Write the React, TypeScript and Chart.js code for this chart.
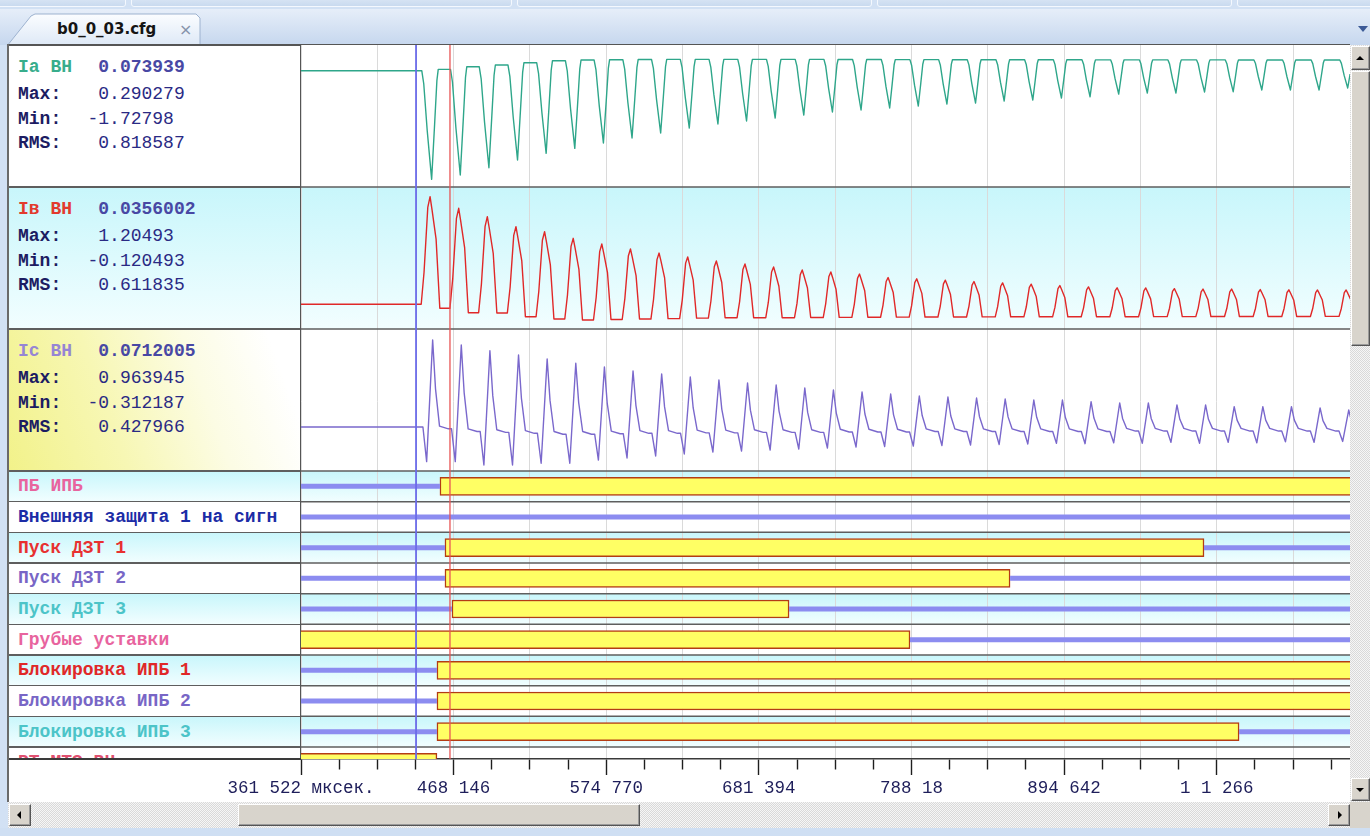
import React, { useEffect, useRef } from 'react';
import { Chart, registerables } from 'chart.js';

Chart.register(...registerables);

// ---------------- time axis (ms) ----------------
const viewStart = 361.522;
const viewEnd = 1094.4;
const recordStart = 300;
const recordEnd = 1150;
const majorTickValues = [361.522, 468.146, 574.77, 681.394, 788.018, 894.642, 1001.266];
const majorTickLabels = ['361 522 мксек.', '468 146', '574 770', '681 394', '788 18', '894 642', '1 1 266'];
const minorTicksPerMajor = 4;
const cursorBlueTime = 441.9;
const cursorRedTime = 465.6;

// ---------------- analog channels ----------------
const analogNames = ['Ia ВН', 'Iв ВН', 'Ic ВН'];
const analogCurrent = ['0.073939', '0.0356002', '0.0712005'];
const analogMax = ['0.290279', '1.20493', '0.963945'];
const analogMin = ['-1.72798', '-0.120493', '-0.312187'];
const analogRms = ['0.818587', '0.611835', '0.427966'];
const analogAxisMin = [-1.85, -0.2766, -0.4875];
const analogAxisMax = [0.409, 1.3136, 1.086];

// per-cycle readings (50 Hz, one entry per cycle)
const iaTroughTime = [452.8, 472.8, 492.8, 512.8, 532.8, 552.8, 572.8, 592.8, 612.8, 632.8, 652.8, 672.8, 692.8, 712.8, 732.8, 752.8, 772.8, 792.8, 812.8, 832.8, 852.8, 872.8, 892.8, 912.8, 932.8, 952.8, 972.8, 992.8, 1012.8, 1032.8, 1052.8, 1072.8, 1092.8];
const iaTrough = [-1.728, -1.66, -1.543, -1.421, -1.314, -1.235, -1.15, -1.071, -0.991, -0.912, -0.848, -0.8, -0.753, -0.705, -0.657, -0.625, -0.593, -0.562, -0.53, -0.514, -0.482, -0.466, -0.434, -0.414, -0.371, -0.355, -0.355, -0.339, -0.334, -0.307, -0.307, -0.307, -0.275];
const iaTop = [0.022, 0.064, 0.091, 0.127, 0.159, 0.17, 0.175, 0.178, 0.18, 0.18, 0.18, 0.18, 0.18, 0.18, 0.178, 0.178, 0.176, 0.176, 0.175, 0.175, 0.175, 0.174, 0.174, 0.173, 0.173, 0.172, 0.172, 0.172, 0.171, 0.171, 0.17, 0.17, 0.17];
const pulseWidth = [1.0, 0.99, 0.98, 0.97, 0.96, 0.95, 0.94, 0.93, 0.92, 0.91, 0.9, 0.89, 0.88, 0.87, 0.86, 0.86, 0.85, 0.85, 0.84, 0.84, 0.83, 0.83, 0.82, 0.82, 0.82, 0.81, 0.81, 0.81, 0.8, 0.8, 0.8, 0.8, 0.8];

const ibPeakTime = [451.7, 471.7, 491.7, 511.7, 531.7, 551.7, 571.7, 591.7, 611.7, 631.7, 651.7, 671.7, 691.7, 711.7, 731.7, 751.7, 771.7, 791.7, 811.7, 831.7, 851.7, 871.7, 891.7, 911.7, 931.7, 951.7, 971.7, 991.7, 1011.7, 1031.7, 1051.7, 1071.7, 1091.7];
const ibPeak = [1.205, 1.075, 0.981, 0.869, 0.813, 0.739, 0.675, 0.619, 0.574, 0.53, 0.485, 0.451, 0.418, 0.384, 0.362, 0.339, 0.3, 0.285, 0.27, 0.255, 0.24, 0.225, 0.21, 0.195, 0.185, 0.183, 0.175, 0.171, 0.171, 0.165, 0.162, 0.16, 0.16];
const ibLow = [-0.045, -0.094, -0.097, -0.139, -0.165, -0.176, -0.17, -0.165, -0.16, -0.155, -0.15, -0.15, -0.15, -0.148, -0.146, -0.145, -0.144, -0.143, -0.142, -0.141, -0.14, -0.14, -0.14, -0.139, -0.139, -0.138, -0.138, -0.137, -0.137, -0.136, -0.136, -0.135, -0.135];

const icPeakTime = [453.5, 473.5, 493.5, 513.5, 533.5, 553.5, 573.5, 593.5, 613.5, 633.5, 653.5, 673.5, 693.5, 713.5, 733.5, 753.5, 773.5, 793.5, 813.5, 833.5, 853.5, 873.5, 893.5, 913.5, 933.5, 953.5, 973.5, 993.5, 1013.5, 1033.5, 1053.5, 1073.5, 1093.5];
const icPeak = [0.964, 0.909, 0.845, 0.798, 0.753, 0.706, 0.665, 0.62, 0.587, 0.554, 0.521, 0.488, 0.465, 0.432, 0.41, 0.388, 0.366, 0.343, 0.332, 0.321, 0.31, 0.299, 0.299, 0.28, 0.266, 0.266, 0.244, 0.244, 0.225, 0.225, 0.225, 0.211, 0.188];
const icDip = [-0.384, -0.384, -0.421, -0.421, -0.402, -0.402, -0.366, -0.343, -0.321, -0.299, -0.277, -0.266, -0.255, -0.244, -0.233, -0.222, -0.216, -0.211, -0.205, -0.199, -0.194, -0.188, -0.181, -0.185, -0.175, -0.18, -0.17, -0.18, -0.17, -0.175, -0.165, -0.17, -0.16];
const icFlat = [-0.02, -0.05, -0.06, -0.07, -0.08, -0.08, -0.075, -0.07, -0.07, -0.065, -0.065, -0.06, -0.06, -0.06, -0.055, -0.055, -0.055, -0.05, -0.05, -0.05, -0.05, -0.05, -0.05, -0.05, -0.045, -0.045, -0.045, -0.045, -0.045, -0.045, -0.045, -0.045, -0.045];

// ---------------- digital channels ----------------
const digitalLabels = ['ПБ ИПБ', 'Внешняя защита 1 на сигн', 'Пуск ДЗТ 1', 'Пуск ДЗТ 2', 'Пуск ДЗТ 3', 'Грубые уставки', 'Блокировка ИПБ 1', 'Блокировка ИПБ 2', 'Блокировка ИПБ 3', 'РТ МТЗ ВН'];
const digitalOnStart = [458.6, null, 462.1, 462.1, 467.0, 300, 456.5, 456.5, 456.5, 300];
const digitalOnEnd = [1150, null, 992.4, 856.9, 702.5, 787.0, 1150, 1150, 1016.9, 456.5];

// ---------------- styles ----------------
const MONO = '"Liberation Mono", "DejaVu Sans Mono", monospace';
const analogNameColors = ['#38ad8c', '#e23a2e', '#9685d4'];
const digitalColors = ['#e8649e', '#1c2ca6', '#e83030', '#7866c6', '#4cc4c8', '#e8649e', '#e02828', '#7866c6', '#4cc4c8', '#e05070'];
const analogLineColors = ['#2ea68a', '#e02828', '#7a68cc'];

const PLOT_TOP = 45;
const ANALOG_H = 142;
const DIGITAL_H = 30.667;
const PARTIAL_H = 12;
const CANVAS_LEFT = 8;
const CANVAS_W = 1342;
const CANVAS_H = 757;
const AXIS_H = 43;
const LEFT_PAD = 293;

const analogIds = ['ya', 'yb', 'yc'];
const digitalIds = digitalLabels.map((_, i) => 'd' + i);

function rowGeometry() {
  const rows: { top: number; h: number }[] = [];
  let y = PLOT_TOP;
  for (let i = 0; i < 3; i++) { rows.push({ top: y, h: ANALOG_H }); y += ANALOG_H; }
  for (let i = 0; i < digitalLabels.length; i++) {
    const h = i === digitalLabels.length - 1 ? PARTIAL_H : DIGITAL_H;
    rows.push({ top: y, h }); y += h;
  }
  return rows;
}
const ROWS = rowGeometry();
const PLOT_BOTTOM = PLOT_TOP + ROWS.reduce((a, r) => a + r.h, 0);

const rowBg = ['white', 'cyan', 'white', ...digitalLabels.map((_, i) => (i % 2 === 0 && i < digitalLabels.length - 1 ? 'cyan' : 'white'))];

function buildIa() {
  const pts: any[] = [{ x: recordStart, y: 0 }];
  for (let n = 0; n < iaTroughTime.length; n++) {
    const t = iaTroughTime[n], w = pulseWidth[n];
    const before = n === 0 ? 0 : iaTop[n - 1];
    const after = iaTop[n];
    const tr = iaTrough[n];
    const lead = 6.9 * w, trail = 4.6 * w;
    pts.push({ x: t - lead, y: before });
    pts.push({ x: t - lead * 0.8, y: before + 0.12 * (tr - before) });
    pts.push({ x: t - lead * 0.45, y: before + 0.55 * (tr - before) });
    pts.push({ x: t, y: tr });
    pts.push({ x: t + trail * 0.45, y: after + 0.5 * (tr - after) });
    pts.push({ x: t + trail * 0.8, y: after + 0.1 * (tr - after) });
    pts.push({ x: t + trail, y: after });
  }
  pts.push({ x: recordEnd, y: iaTop[iaTop.length - 1] });
  return pts;
}

function buildIb() {
  const pts: any[] = [{ x: recordStart, y: 0 }];
  for (let n = 0; n < ibPeakTime.length; n++) {
    const P = ibPeakTime[n], w = pulseWidth[n];
    const prev = n === 0 ? 0 : ibLow[n - 1];
    const pk = ibPeak[n], lo = ibLow[n];
    pts.push({ x: P - 6.2 * w, y: prev });
    pts.push({ x: P - 4.2 * w, y: prev + 0.3 * (pk - prev) });
    pts.push({ x: P - 1.6 * w, y: prev + 0.9 * (pk - prev) });
    pts.push({ x: P, y: pk });
    pts.push({ x: P + 1.4 * w, y: lo + 0.88 * (pk - lo) });
    pts.push({ x: P + 4.2 * w, y: lo + 0.62 * (pk - lo) });
    pts.push({ x: P + 6.8 * w, y: lo });
  }
  pts.push({ x: recordEnd, y: ibLow[ibLow.length - 1] });
  return pts;
}

function buildIc() {
  const pts: any[] = [{ x: recordStart, y: 0 }];
  for (let n = 0; n < icPeakTime.length; n++) {
    const P = icPeakTime[n];
    const prev = n === 0 ? 0 : icFlat[n - 1];
    pts.push({ x: P - 6.8, y: prev });
    pts.push({ x: P - 4.2, y: icDip[n] });
    pts.push({ x: P, y: icPeak[n] });
    pts.push({ x: P + 2.0, y: icFlat[n] + 0.45 * (icPeak[n] - icFlat[n]) });
    pts.push({ x: P + 4.8, y: icFlat[n] + 0.03 });
    pts.push({ x: P + 11, y: icFlat[n] });
  }
  pts.push({ x: recordEnd, y: icFlat[icFlat.length - 1] });
  return pts;
}

function buildXTicks() {
  const step = (majorTickValues[1] - majorTickValues[0]) / minorTicksPerMajor;
  const out: number[] = [];
  for (let i = 0; ; i++) {
    const v = majorTickValues[0] + i * step;
    if (v > viewEnd) break;
    out.push(v);
  }
  return out;
}

const framePlugin = {
  id: 'oscFrame',
  beforeDraw(chart: any) {
    const { ctx, chartArea } = chart;
    const ids = [...analogIds, ...digitalIds];
    ctx.save();
    ids.forEach((id, i) => {
      const s = chart.scales[id];
      if (rowBg[i] === 'cyan') {
        const g = ctx.createLinearGradient(0, s.top, 0, s.bottom);
        g.addColorStop(0, '#c8f6fb');
        g.addColorStop(1, '#f2feff');
        ctx.fillStyle = g;
      } else {
        ctx.fillStyle = '#ffffff';
      }
      ctx.fillRect(chartArea.left, s.top, chartArea.right - chartArea.left, s.bottom - s.top);
    });
    ctx.restore();
  },
  afterDatasetsDraw(chart: any) {
    const { ctx, chartArea } = chart;
    const ids = [...analogIds, ...digitalIds];
    ctx.save();
    ctx.strokeStyle = '#5e5e5e';
    ctx.lineWidth = 1.5;
    ids.forEach((id, i) => {
      if (i === 0) return;
      const s = chart.scales[id];
      ctx.beginPath();
      ctx.moveTo(chartArea.left, s.top);
      ctx.lineTo(chartArea.right, s.top);
      ctx.stroke();
    });
    const x = chart.scales.x;
    const xb = x.getPixelForValue(cursorBlueTime);
    ctx.strokeStyle = '#6a6ae8';
    ctx.lineWidth = 1.8;
    ctx.beginPath(); ctx.moveTo(xb, chartArea.top); ctx.lineTo(xb, chartArea.bottom); ctx.stroke();
    const xr = x.getPixelForValue(cursorRedTime);
    ctx.strokeStyle = '#e85454';
    ctx.lineWidth = 1.3;
    ctx.beginPath(); ctx.moveTo(xr, chartArea.top); ctx.lineTo(xr, chartArea.bottom); ctx.stroke();
    ctx.restore();
  },
};

function makeConfig() {
  const xTicks = buildXTicks();
  const scales: any = {
    x: {
      type: 'linear',
      position: 'bottom',
      min: viewStart,
      max: viewEnd,
      offset: false,
      afterBuildTicks: (s: any) => { s.ticks = xTicks.map((v) => ({ value: v })); },
      afterFit: (s: any) => { s.height = AXIS_H; },
      grid: {
        offset: false,
        drawOnChartArea: true,
        color: (c: any) => (c.index % 2 === 0 ? '#dadada' : 'rgba(0,0,0,0)'),
        lineWidth: 1,
        drawTicks: true,
        tickLength: 16,
        tickColor: '#1e1e1e',
        tickWidth: 1.4,
        tickBorderDash: (c: any) => (c.index % minorTicksPerMajor === 0 ? [] : [10, 60]),
      },
      border: { display: true, color: '#3a3a3a', width: 1.5 },
      ticks: {
        autoSkip: false,
        maxRotation: 0,
        minRotation: 0,
        padding: 3,
        color: '#1e1e5a',
        font: { family: MONO, size: 17.5 },
        callback: (_v: any, i: number) => (i % minorTicksPerMajor === 0 ? majorTickLabels[i / minorTicksPerMajor] || '' : ''),
      },
    },
  };
  analogIds.forEach((id, i) => {
    scales[id] = {
      type: 'linear', axis: 'y', position: 'right', stack: 'rows', stackWeight: ANALOG_H,
      min: analogAxisMin[i], max: analogAxisMax[i], display: false, offset: false, grid: { display: false, offset: false },
    };
  });
  digitalIds.forEach((id, i) => {
    const partial = i === digitalIds.length - 1;
    scales[id] = {
      type: 'linear', axis: 'y', position: 'right', stack: 'rows', stackWeight: partial ? PARTIAL_H : DIGITAL_H,
      min: partial ? 1 - PARTIAL_H / DIGITAL_H : 0, max: 1, display: false, offset: false, grid: { display: false, offset: false },
    };
  });

  const datasets: any[] = [];
  const analogData = [buildIa(), buildIb(), buildIc()];
  analogData.forEach((data, i) => {
    datasets.push({
      type: 'line', label: analogNames[i], xAxisID: 'x', yAxisID: analogIds[i], data,
      borderColor: analogLineColors[i], borderWidth: 1.4, pointRadius: 0, tension: 0, fill: false, clip: 0,
      borderJoinStyle: 'round',
    });
  });
  digitalLabels.forEach((label, i) => {
    const s = digitalOnStart[i];
    const e = digitalOnEnd[i];
    const zero = s === null
      ? [{ x: recordStart, y: 0.5 }, { x: recordEnd, y: 0.5 }]
      : [{ x: recordStart, y: 0.5 }, { x: s, y: 0.5 }, { x: (s + (e as number)) / 2, y: null }, { x: e, y: 0.5 }, { x: recordEnd, y: 0.5 }];
    datasets.push({
      type: 'line', label: label + ' 0', xAxisID: 'x', yAxisID: digitalIds[i], data: zero,
      borderColor: '#8c8cf0', borderWidth: 5, borderCapStyle: 'butt', pointRadius: 0, spanGaps: false, clip: 0,
    });
    if (s !== null) {
      datasets.push({
        type: 'bar', label: label + ' 1', indexAxis: 'y', xAxisID: 'x', yAxisID: digitalIds[i],
        data: [{ x: [s, e], y: 0.5 }],
        backgroundColor: '#ffff64', borderColor: '#b43c14', borderWidth: 1.5, borderSkipped: false,
        barThickness: 18, grouped: false, clip: 0,
      });
    }
  });

  return {
    type: 'line',
    data: { datasets },
    options: {
      animation: false,
      responsive: false,
      maintainAspectRatio: false,
      devicePixelRatio: 1,
      events: [],
      layout: { padding: { left: LEFT_PAD, right: 0, top: 0, bottom: 0 } },
      plugins: { legend: { display: false }, tooltip: { enabled: false }, title: { display: false } },
      scales,
    },
    plugins: [framePlugin],
  };
}

const abs = (left: number, top: number, width?: number, height?: number, extra: any = {}) => ({
  position: 'absolute' as const, left, top, width, height, ...extra,
});

const btnStyle = {
  background: '#d8d4cc',
  borderStyle: 'solid',
  borderWidth: 1,
  borderColor: '#ffffff #555555 #555555 #ffffff',
  boxShadow: 'inset -1px -1px #9a9a9a',
  boxSizing: 'border-box' as const,
};
const trackBg = 'repeating-conic-gradient(#d9d9d9 0% 25%, #f6f6f6 0% 50%) 0 0 / 2px 2px';

function Tri({ dir, left, top }: { dir: 'up' | 'down' | 'left' | 'right'; left: number; top: number }) {
  const s: any = { position: 'absolute', left, top, width: 0, height: 0 };
  if (dir === 'up') Object.assign(s, { borderLeft: '4px solid transparent', borderRight: '4px solid transparent', borderBottom: '4px solid #000' });
  if (dir === 'down') Object.assign(s, { borderLeft: '4px solid transparent', borderRight: '4px solid transparent', borderTop: '4px solid #000' });
  if (dir === 'left') Object.assign(s, { borderTop: '4px solid transparent', borderBottom: '4px solid transparent', borderRight: '4px solid #000' });
  if (dir === 'right') Object.assign(s, { borderTop: '4px solid transparent', borderBottom: '4px solid transparent', borderLeft: '4px solid #000' });
  return <div style={s} />;
}

export default function App() {
  const canvasRef = useRef<HTMLCanvasElement | null>(null);
  useEffect(() => {
    const canvas = canvasRef.current;
    if (!canvas) return;
    const chart = new Chart(canvas, makeConfig() as any);
    return () => { chart.destroy(); };
  }, []);

  const textBase = { fontFamily: MONO, fontSize: 18, lineHeight: '20px', whiteSpace: 'pre' as const };
  const cyanGrad = 'linear-gradient(to bottom, #c8f6fb 0%, #f2feff 100%)';
  const yellowGrad = 'linear-gradient(70deg, #f2f28a 0%, #f7f7b4 35%, #fcfce4 65%, #ffffff 90%)';
  const leftBg = ['#ffffff', cyanGrad, yellowGrad, ...digitalLabels.map((_, i) => (i % 2 === 0 && i < digitalLabels.length - 1 ? cyanGrad : '#ffffff'))];

  const topTabs = [[-4, 130], [131, 381], [517, 355], [877, 355], [1237, 140]];

  return (
    <div style={abs(0, 0, 1370, 836, { overflow: 'hidden', background: '#d2e1f4', fontFamily: MONO })}>
      {topTabs.map(([l, w], i) => (
        <div key={'tt' + i} style={abs(l, -6, w, 13, { border: '1px solid #f4f8fe', borderRadius: 3, background: 'linear-gradient(#e0eaf7, #c9daef)', boxSizing: 'border-box' })} />
      ))}
      <div style={abs(0, 9, 1370, 36, { background: 'linear-gradient(#e6eef9, #c6d7ee)' })} />
      <svg style={abs(0, 9, 220, 37)} width={220} height={37}>
        <defs>
          <linearGradient id="tabg" x1="0" y1="0" x2="0" y2="1">
            <stop offset="0" stopColor="#fbfdff" />
            <stop offset="1" stopColor="#dde8f6" />
          </linearGradient>
        </defs>
        <polygon points="7,37 31,7 35,5 196,5 200,9 200,37" fill="url(#tabg)" stroke="#9db2cf" strokeWidth="1" />
      </svg>
      <div style={abs(57, 19, 110, 20, { fontFamily: '"DejaVu Sans", Verdana, sans-serif', fontWeight: 'bold', fontSize: 15, lineHeight: '20px', color: '#151515' })}>b0_0_03.cfg</div>
      <div style={abs(179, 20, 16, 20, { fontFamily: '"DejaVu Sans", sans-serif', fontSize: 16, lineHeight: '20px', color: '#8593aa' })}>×</div>
      <div style={abs(1358, 26, 0, 0, { borderLeft: '5px solid transparent', borderRight: '5px solid transparent', borderTop: '6px solid #3c5a96' })} />

      <div style={abs(8, 44, 1342, 758, { background: '#ffffff' })} />
      {ROWS.map((r, i) => (
        <div key={'lb' + i} style={abs(9, r.top, 292, r.h, { background: leftBg[i] })} />
      ))}
      {ROWS.map((r, i) => (
        <div key={'ls' + i} style={abs(8, r.top - 0.75, 293, 1.5, { background: '#5e5e5e' })} />
      ))}
      <div style={abs(8, PLOT_BOTTOM - 0.75, 293, 1.5, { background: '#3a3a3a' })} />
      <div style={abs(8, 44, 1342, 2, { background: '#555555' })} />
      <div style={abs(7, 44, 2, 758, { background: '#6a6a6a' })} />
      <div style={abs(300, 44, 2, PLOT_BOTTOM - 44, { background: '#555555' })} />

      {analogNames.map((name, i) => {
        const top = ROWS[i].top;
        const val = (v: string) => (v.startsWith('-') ? v : ' ' + v);
        return (
          <React.Fragment key={name}>
            <div style={abs(18, top + 11.5, undefined, 20, { ...textBase, color: analogNameColors[i], fontWeight: 'bold' })}>{name}</div>
            <div style={abs(87.5, top + 11.5, undefined, 20, { ...textBase, color: '#4848a4', fontWeight: 'bold' })}>{val(analogCurrent[i])}</div>
            {[['Max:', analogMax[i]], ['Min:', analogMin[i]], ['RMS:', analogRms[i]]].map(([lab, v], k) => (
              <React.Fragment key={lab}>
                <div style={abs(18, top + 39 + k * 24.5, undefined, 20, { ...textBase, color: '#1c1c62', fontWeight: 'bold' })}>{lab}</div>
                <div style={abs(87.5, top + 39 + k * 24.5, undefined, 20, { ...textBase, color: '#2a2a84' })}>{val(v)}</div>
              </React.Fragment>
            ))}
          </React.Fragment>
        );
      })}

      {digitalLabels.map((lab, i) => {
        const r = ROWS[3 + i];
        const partial = i === digitalLabels.length - 1;
        return (
          <div key={'dl' + i} style={abs(9, r.top + 0.75, 291, r.h - 1.5, { overflow: 'hidden' })}>
            <div style={abs(9, (partial ? DIGITAL_H : r.h) / 2 - 10.75, undefined, 20, { ...textBase, color: digitalColors[i], fontWeight: 'bold' })}>{lab}</div>
          </div>
        );
      })}

      <canvas ref={canvasRef} width={CANVAS_W} height={CANVAS_H} style={abs(CANVAS_LEFT, PLOT_TOP, CANVAS_W, CANVAS_H)} />

      <div style={abs(1350, 45, 20, 757, { background: trackBg })} />
      <div style={abs(1351, 46, 19, 24, btnStyle)} />
      <Tri dir="up" left={1356} top={56} />
      <div style={abs(1351, 71, 19, 275, btnStyle)} />
      <div style={abs(1351, 778, 19, 23, btnStyle)} />
      <Tri dir="down" left={1356} top={788} />

      <div style={abs(8, 802, 1342, 26, { background: trackBg })} />
      <div style={abs(9, 804, 22, 22, btnStyle)} />
      <Tri dir="left" left={17} top={811} />
      <div style={abs(238, 804, 402, 22, btnStyle)} />
      <div style={abs(1328, 804, 22, 22, btnStyle)} />
      <Tri dir="right" left={1338} top={811} />
      <div style={abs(1350, 802, 20, 26, { background: '#d8d4cc' })} />

      <div style={abs(0, 828, 1370, 8, { background: '#cfdff3' })} />
    </div>
  );
}
